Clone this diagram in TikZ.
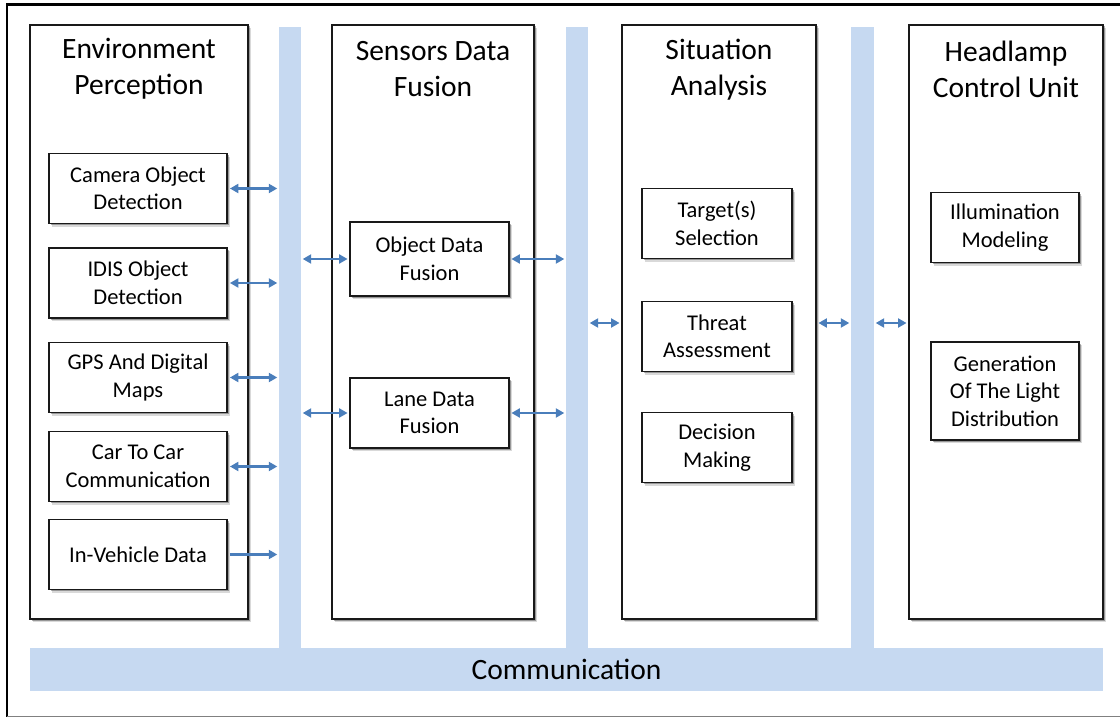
\documentclass[tikz,border=0pt]{standalone}
\usepackage{fontspec}
\setmainfont{Carlito}
\usetikzlibrary{arrows.meta,shadows}
\definecolor{busblue}{RGB}{198,217,241}
\definecolor{arrowblue}{RGB}{74,126,187}
\definecolor{boxline}{RGB}{25,25,25}

\begin{document}
\begin{tikzpicture}[x=1pt,y=-1pt,
  softshadow/.style={
    drop shadow={shadow xshift=1.5pt,shadow yshift=-1.5pt,opacity=.30,fill=black},
    drop shadow={shadow xshift=3pt,shadow yshift=-3pt,opacity=.15,fill=black}},
  column/.style={draw=boxline,line width=1.9pt,fill=white,softshadow,
    minimum width=#1,minimum height=594pt,inner sep=0pt},
  unit/.style={draw=boxline,line width=1.8pt,fill=white,softshadow,
    align=center,inner sep=0pt,minimum width=#1,minimum height=70pt,
    font=\fontsize{22.5}{27.5}\selectfont},
  title/.style={align=center,font=\fontsize{29.5}{36}\selectfont},
  bus/.style={fill=busblue,draw=none,inner sep=0pt},
  tip/.tip={Triangle[length=8.5pt,width=9pt]},
  link/.style={arrowblue,line width=2.2pt,tip-tip},
  feed/.style={arrowblue,line width=2.2pt,-tip}]

\useasboundingbox (0,0) rectangle (1120,717);

% outer frame
\draw[line width=2.8pt] (7,717) -- (7,4.5) -- (1120,4.5);
\draw[gray,line width=1pt] (7,716.5) -- (1120,716.5);

% communication buses
\node[bus,minimum width=22pt,minimum height=621pt] (bus1) at (290,337.5) {};
\node[bus,minimum width=22pt,minimum height=621pt] (bus2) at (577,337.5) {};
\node[bus,minimum width=23pt,minimum height=621pt] (bus3) at (862.5,337.5) {};
\node[bus,minimum width=1073pt,minimum height=43pt,
      font=\fontsize{29.5}{36}\selectfont] (comm) at (566.5,669.5) {Communication};

% main processing stages
\node[column=218pt] (ep) at (139,322) {};
\node[column=202pt] (sdf) at (433,322) {};
\node[column=194pt] (sa) at (719,322) {};
\node[column=194pt] (hcu) at (1006,322) {};

\node[title] (ept) at (139,69) {Environment\\Perception};
\node[title] (sdft) at (433,69) {Sensors Data\\Fusion};
\node[title] (sat) at (719,70) {Situation\\Analysis};
\node[title] (hcut) at (1006,69) {Headlamp\\Control Unit};

% environment perception units
\node[unit=178pt] (cam) at (138,188.5) {Camera Object\\Detection};
\node[unit=178pt] (idis) at (138,283) {IDIS Object\\Detection};
\node[unit=178pt] (gps) at (138,377.5) {GPS And Digital\\Maps};
\node[unit=178pt] (c2c) at (138,466.5) {Car To Car\\Communication};
\node[unit=178pt] (veh) at (138,554.5) {In-Vehicle Data};

% sensor data fusion units
\node[unit=159pt,minimum height=74pt] (odf) at (429.5,259) {Object Data\\Fusion};
\node[unit=159pt] (ldf) at (429.5,413) {Lane Data\\Fusion};

% situation analysis units
\node[unit=150pt] (tsel) at (717,223.5) {Target(s)\\Selection};
\node[unit=150pt] (thr) at (717,336.5) {Threat\\Assessment};
\node[unit=150pt] (dec) at (717,447.5) {Decision\\Making};

% headlamp control units
\node[unit=148pt] (ill) at (1005,227.5) {Illumination\\Modeling};
\node[unit=148pt,minimum height=98pt] (gen) at (1005,391) {Generation\\Of The Light\\Distribution};

% links to the first bus
\foreach \u in {cam,idis,gps,c2c}
  \draw[link] ([xshift=2pt]\u.east) -- ([xshift=-1.5pt]\u.east -| bus1.west);
\draw[feed] ([xshift=2pt]veh.east) -- ([xshift=-1.5pt]veh.east -| bus1.west);

% fusion links
\foreach \u in {odf,ldf}{
  \draw[link] ([xshift=1.5pt]\u.west -| bus1.east) -- ([xshift=-1.5pt]\u.west);
  \draw[link] ([xshift=1.5pt]\u.east) -- ([xshift=-1.5pt]\u.east -| bus2.west);
}

% stage links at the analysis level
\coordinate (lv) at (0,323);
\draw[link] ([xshift=1.5pt]bus2.east |- lv) -- ([xshift=-1.5pt]sa.west |- lv);
\draw[link] ([xshift=1.5pt]sa.east |- lv) -- ([xshift=-1.5pt]bus3.west |- lv);
\draw[link] ([xshift=1.5pt]bus3.east |- lv) -- ([xshift=-1.5pt]hcu.west |- lv);

\end{tikzpicture}
\end{document}
